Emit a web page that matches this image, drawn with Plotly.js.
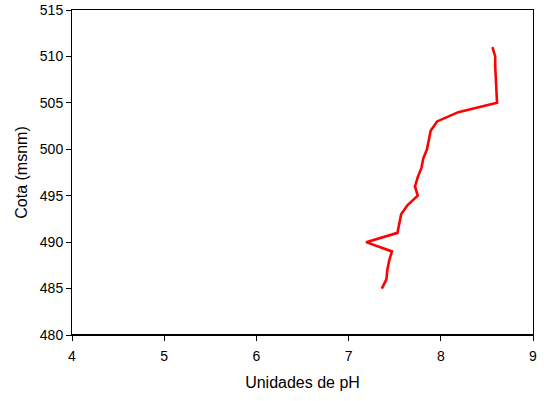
<!DOCTYPE html>
<html>
<head>
<meta charset="utf-8">
<script src="https://cdn.plot.ly/plotly-3.0.1.min.js"></script>
<style>html,body{margin:0;padding:0;background:#fff;}#chart{width:544px;height:401px;}</style>
</head>
<body>
<div id="chart"></div>
<script>
const cota = [511, 510, 509, 508, 507, 506, 505, 504, 503, 502, 501, 500, 499, 498, 497, 496, 495, 494, 493, 492, 491, 490, 489, 488, 487, 486, 485];
const ph = [8.56, 8.59, 8.59, 8.595, 8.6, 8.6, 8.61, 8.19, 7.96, 7.89, 7.87, 7.85, 7.81, 7.79, 7.75, 7.72, 7.75, 7.64, 7.57, 7.55, 7.53, 7.19, 7.47, 7.44, 7.42, 7.41, 7.36];
const xTicks = [4, 5, 6, 7, 8, 9];
const yTicks = [480, 485, 490, 495, 500, 505, 510, 515];

const font = {family: 'Liberation Sans, Arial, sans-serif', size: 14, color: '#000'};
const tfont = {family: font.family, size: 16, color: '#000'};
Plotly.newPlot('chart', [{
  x: ph, y: cota, type: 'scatter', mode: 'lines',
  line: {color: '#FF0000', width: 2.6}, hoverinfo: 'none'
}], {
  width: 544, height: 401,
  margin: {l: 72, r: 11, t: 10, b: 66},
  paper_bgcolor: '#fff', plot_bgcolor: '#fff',
  font: font,
  showlegend: false,
  xaxis: {
    range: [4, 9], tickvals: xTicks, ticktext: xTicks.map(String),
    showgrid: false, zeroline: false, showline: true, linecolor: '#000', linewidth: 1, mirror: true,
    ticks: 'outside', ticklen: 5, tickcolor: '#000', tickfont: font, ticklabelstandoff: 3,
    title: {text: 'Unidades de pH', font: tfont, standoff: 14}
  },
  yaxis: {
    range: [480, 515], tickvals: yTicks, ticktext: yTicks.map(String),
    showgrid: false, zeroline: false, showline: true, linecolor: '#000', linewidth: 1, mirror: true,
    ticks: 'outside', ticklen: 5, tickcolor: '#000', tickfont: font,
    title: {text: 'Cota (msnm)', font: tfont, standoff: 8}
  },
  shapes: [{type: 'line', xref: 'paper', yref: 'paper', x0: 0, x1: 1, y0: 0, y1: 0, line: {color: '#000', width: 2}}]
}, {staticPlot: true});
</script>
</body>
</html>
